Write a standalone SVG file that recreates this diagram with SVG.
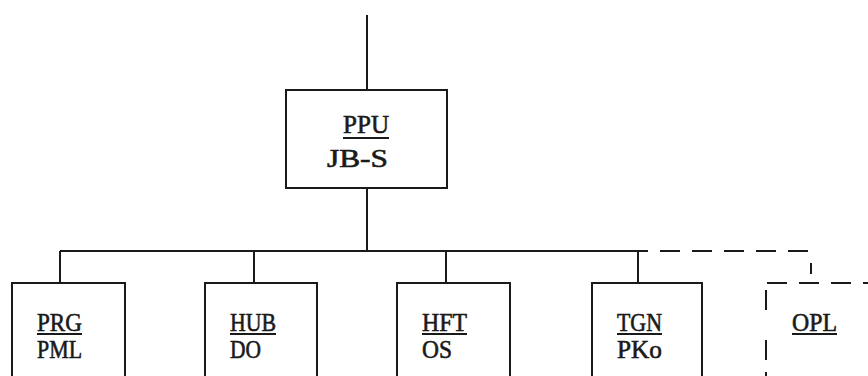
<svg xmlns="http://www.w3.org/2000/svg" width="868" height="376" viewBox="0 0 868 376">
<style>
.box{fill:none;stroke:#1a1a1a;stroke-width:2}
.ln{fill:none;stroke:#1a1a1a;stroke-width:2}
.dash{fill:none;stroke:#1a1a1a;stroke-width:2;stroke-dasharray:20 12}
.t{font-family:"Liberation Serif","Times New Roman",serif;font-size:26px;fill:#1a1a1a;stroke:#1a1a1a;stroke-width:0.6}
.u{stroke:#1a1a1a;stroke-width:2}
</style>
<rect width="868" height="376" fill="#fff"/>
<g id="connectors">
<line class="ln" x1="367" y1="15" x2="367" y2="90"/>
<line class="ln" x1="367" y1="188" x2="367" y2="251"/>
<line class="ln" x1="60" y1="251" x2="648" y2="251"/>
<line class="ln" x1="60" y1="251" x2="60" y2="283"/>
<line class="ln" x1="254" y1="251" x2="254" y2="283"/>
<line class="ln" x1="446" y1="251" x2="446" y2="283"/>
<line class="ln" x1="638" y1="251" x2="638" y2="283"/>
<path class="dash" d="M660 251 H810"/>
<path class="dash" d="M811 263 V274"/>
<path class="dash" d="M767 283 H868"/>
<path class="dash" d="M766 290 V314 M766 340 V376"/>
</g>
<g id="PPU">
<rect class="box" x="286" y="90" width="161" height="98"/>
<text class="t" x="343" y="133" textLength="46" lengthAdjust="spacingAndGlyphs">PPU</text>
<line class="u" x1="343" y1="138" x2="389" y2="138"/>
<text class="t" x="327" y="167" textLength="61" lengthAdjust="spacingAndGlyphs">JB-S</text>
</g>
<g id="PRG">
<rect class="box" x="12" y="283" width="113" height="110"/>
<text class="t" x="37" y="331" textLength="45" lengthAdjust="spacingAndGlyphs">PRG</text>
<line class="u" x1="37" y1="334" x2="82" y2="334"/>
<text class="t" x="37" y="358" textLength="45" lengthAdjust="spacingAndGlyphs">PML</text>
</g>
<g id="HUB">
<rect class="box" x="205" y="283" width="112" height="110"/>
<text class="t" x="230" y="331" textLength="46" lengthAdjust="spacingAndGlyphs">HUB</text>
<line class="u" x1="230" y1="334" x2="276" y2="334"/>
<text class="t" x="230" y="358" textLength="31" lengthAdjust="spacingAndGlyphs">DO</text>
</g>
<g id="HFT">
<rect class="box" x="397" y="283" width="113" height="110"/>
<text class="t" x="422" y="331" textLength="45" lengthAdjust="spacingAndGlyphs">HFT</text>
<line class="u" x1="422" y1="334" x2="467" y2="334"/>
<text class="t" x="422" y="358" textLength="30" lengthAdjust="spacingAndGlyphs">OS</text>
</g>
<g id="TGN">
<rect class="box" x="592" y="283" width="110" height="110"/>
<text class="t" x="617" y="331" textLength="45" lengthAdjust="spacingAndGlyphs">TGN</text>
<line class="u" x1="617" y1="334" x2="662" y2="334"/>
<text class="t" x="617" y="358" textLength="45" lengthAdjust="spacingAndGlyphs">PKo</text>
</g>
<g id="OPL">
<text class="t" x="792" y="331" textLength="45" lengthAdjust="spacingAndGlyphs">OPL</text>
<line class="u" x1="792" y1="334" x2="837" y2="334"/>
</g>
</svg>
